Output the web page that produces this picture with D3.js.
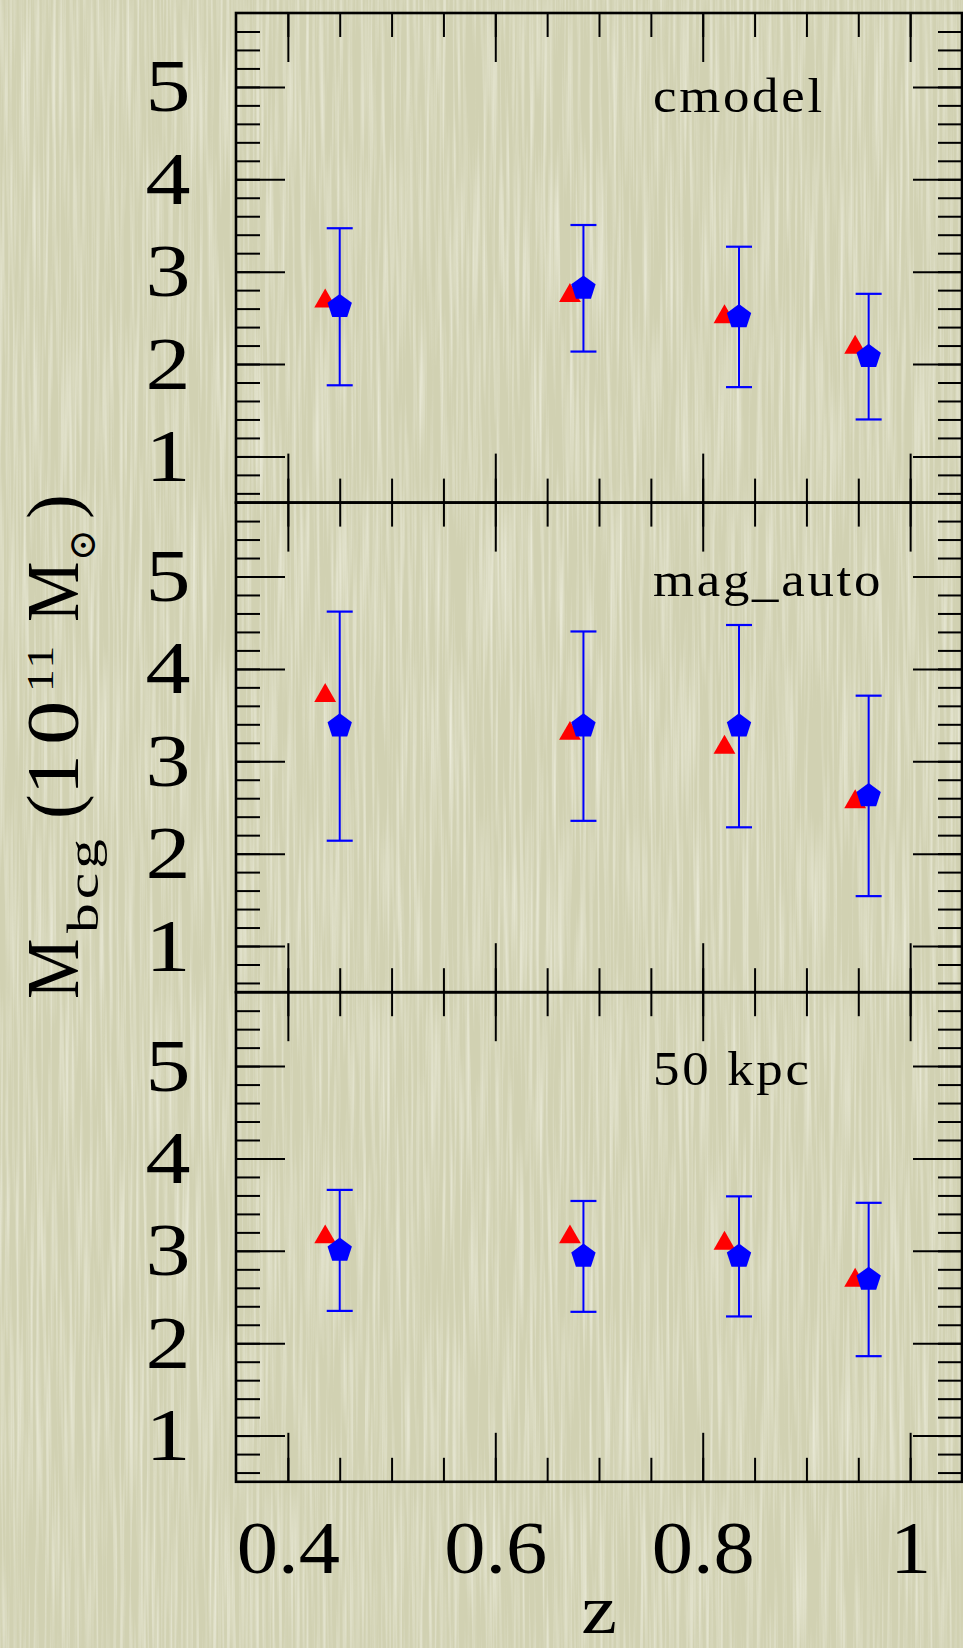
<!DOCTYPE html>
<html>
<head>
<meta charset="utf-8">
<script src="https://cdn.jsdelivr.net/npm/d3@7"></script>
<style>
  html, body { margin: 0; padding: 0; background: #d2d2b3; }
  svg { display: block; }
</style>
</head>
<body>
<svg id="chart" width="963" height="1648"></svg>
<script>
// Redshift bins (blue: full sample, red: comparison values, slightly offset)
const zBlue = [0.45, 0.685, 0.835, 0.96];
const zRed  = [0.436, 0.672, 0.821, 0.947];

// Panel names (photometry choice)
const panelNames = ["cmodel", "mag_auto", "50 kpc"];

// BCG stellar mass, 10^11 Msun
const cmodelBlue    = [2.62, 2.82, 2.51, 2.08];
const cmodelBlueErr = [0.85, 0.685, 0.76, 0.68];
const cmodelRed     = [2.68, 2.74, 2.51, 2.18];

const magAutoBlue    = [3.38, 3.38, 3.38, 2.625];
const magAutoBlueErr = [1.24, 1.025, 1.095, 1.085];
const magAutoRed     = [3.71, 3.30, 3.15, 2.56];

const kpc50Blue    = [3.005, 2.94, 2.94, 2.69];
const kpc50BlueErr = [0.655, 0.60, 0.65, 0.83];
const kpc50Red     = [3.15, 3.15, 3.08, 2.68];

// Axis ticks
const xMajorTicks = [0.4, 0.6, 0.8, 1.0];
const xTickLabels = ["0.4", "0.6", "0.8", "1"];
const yMajorTicks = [1, 2, 3, 4, 5];
const yTickLabels = ["1", "2", "3", "4", "5"];

// ---------------------------------------------------------------------------
const panels = [
  { name: panelNames[0], blue: cmodelBlue,  err: cmodelBlueErr,  red: cmodelRed },
  { name: panelNames[1], blue: magAutoBlue, err: magAutoBlueErr, red: magAutoRed },
  { name: panelNames[2], blue: kpc50Blue,   err: kpc50BlueErr,   red: kpc50Red }
];

const W = 963, H = 1648;
const plotL = 236, plotR = 962, plotT = 13, panelH = 489.6;
const labelDy = [99, 93, 93];
const serif = "'Liberation Serif', 'Times New Roman', serif";

const svg = d3.select("#chart");

// textured paper background with soft vertical streaks
const defs = svg.append("defs");
const flt = defs.append("filter").attr("id", "paper")
  .attr("x", 0).attr("y", 0).attr("width", "100%").attr("height", "100%");
flt.append("feTurbulence").attr("type", "fractalNoise")
  .attr("baseFrequency", "0.3 0.006").attr("numOctaves", 2).attr("seed", 7);
flt.append("feColorMatrix").attr("type", "matrix")
  .attr("values", "0 0 0 0 0.97  0 0 0 0 0.97  0 0 0 0 0.9  1.2 0 0 0 -0.5");
svg.append("rect").attr("width", W).attr("height", H).attr("fill", "#d1d1b2");
svg.append("rect").attr("width", W).attr("height", H).attr("filter", "url(#paper)");

const x = d3.scaleLinear().domain([0.35, 1.05]).range([plotL, plotR]);
const xMinor = d3.range(0.4, 1.0001, 0.05).map(v => +v.toFixed(2));
const yMinor = d3.range(0.6, 5.7001, 0.2).map(v => +v.toFixed(1));

function polygon(cx, cy, r, n) {
  const pts = [];
  for (let k = 0; k < n; k++) {
    const a = -Math.PI / 2 + k * 2 * Math.PI / n;
    pts.push([cx + r * Math.cos(a), cy + r * Math.sin(a)]);
  }
  return "M" + pts.map(p => p.join(",")).join("L") + "Z";
}

function styleTicks(g, w) {
  g.select(".domain").remove();
  g.selectAll(".tick line").attr("stroke", "#000").attr("stroke-width", w);
}

panels.forEach((p, i) => {
  const y0 = plotT + i * panelH, y1 = y0 + panelH;
  const y = d3.scaleLinear().domain([0.5, 5.8]).range([y1, y0]);
  const g = svg.append("g");

  // minor / major ticks on all four sides, pointing inward
  g.append("g").attr("transform", `translate(${plotL},0)`)
    .call(d3.axisLeft(y).tickValues(yMinor).tickSize(-24).tickFormat(""))
    .call(s => styleTicks(s, 2));
  g.append("g").attr("transform", `translate(${plotR},0)`)
    .call(d3.axisRight(y).tickValues(yMinor).tickSize(-24).tickFormat(""))
    .call(s => styleTicks(s, 2));
  const yl = g.append("g").attr("transform", `translate(${plotL},0)`)
    .call(d3.axisLeft(y).tickValues(yMajorTicks).tickSize(-49).tickPadding(38)
      .tickFormat((d, j) => yTickLabels[j]))
    .call(s => styleTicks(s, 2));
  yl.selectAll(".tick text").attr("font-family", serif).attr("font-size", 75)
    .attr("fill", "#000").attr("transform", "scale(1.2,1)");
  g.append("g").attr("transform", `translate(${plotR},0)`)
    .call(d3.axisRight(y).tickValues(yMajorTicks).tickSize(-49).tickFormat(""))
    .call(s => styleTicks(s, 2));

  g.append("g").attr("transform", `translate(0,${y0})`)
    .call(d3.axisTop(x).tickValues(xMinor).tickSize(-24).tickFormat(""))
    .call(s => styleTicks(s, 2));
  g.append("g").attr("transform", `translate(0,${y0})`)
    .call(d3.axisTop(x).tickValues(xMajorTicks).tickSize(-49).tickFormat(""))
    .call(s => styleTicks(s, 2));
  g.append("g").attr("transform", `translate(0,${y1})`)
    .call(d3.axisBottom(x).tickValues(xMinor).tickSize(-24).tickFormat(""))
    .call(s => styleTicks(s, 2));
  const xb = g.append("g").attr("transform", `translate(0,${y1})`)
    .call(d3.axisBottom(x).tickValues(xMajorTicks).tickSize(-49).tickPadding(38)
      .tickFormat((d, j) => i === panels.length - 1 ? xTickLabels[j] : ""))
    .call(s => styleTicks(s, 2));
  xb.selectAll(".tick text").attr("font-family", serif).attr("font-size", 75)
    .attr("fill", "#000").attr("transform", "scale(1.1,1)");

  // frame
  g.append("rect").attr("x", plotL).attr("y", y0)
    .attr("width", plotR - plotL).attr("height", panelH)
    .attr("fill", "none").attr("stroke", "#000").attr("stroke-width", 2.6);

  // panel name
  g.append("text").attr("transform", `translate(653,${y0 + labelDy[i]}) scale(1.1,1)`)
    .attr("font-family", serif).attr("font-size", 48).attr("letter-spacing", 2.5)
    .attr("fill", "#000").text(p.name);

  // red triangles
  g.selectAll(".tri").data(p.red).join("path")
    .attr("d", (v, j) => polygon(x(zRed[j]), y(v), 12.6, 3))
    .attr("fill", "#ff0000");

  // blue error bars
  const eb = g.selectAll(".eb").data(p.blue).join("g");
  eb.append("line")
    .attr("x1", (v, j) => x(zBlue[j])).attr("x2", (v, j) => x(zBlue[j]))
    .attr("y1", (v, j) => y(v + p.err[j])).attr("y2", (v, j) => y(v - p.err[j]))
    .attr("stroke", "#0000ff").attr("stroke-width", 2);
  [1, -1].forEach(sgn => {
    eb.append("line")
      .attr("x1", (v, j) => x(zBlue[j]) - 13).attr("x2", (v, j) => x(zBlue[j]) + 13)
      .attr("y1", (v, j) => y(v + sgn * p.err[j])).attr("y2", (v, j) => y(v + sgn * p.err[j]))
      .attr("stroke", "#0000ff").attr("stroke-width", 2.2);
  });
  // blue pentagons
  g.selectAll(".pent").data(p.blue).join("path")
    .attr("d", (v, j) => polygon(x(zBlue[j]), y(v), 12.8, 5))
    .attr("fill", "#0000ff");
});

// x axis title
svg.append("text").attr("transform", `translate(${(plotL + plotR) / 2},1633) scale(1.15,1)`)
  .attr("text-anchor", "middle").attr("font-family", serif).attr("font-size", 70)
  .attr("fill", "#000").text("z");

// y axis title: M_bcg (10^11 M_sun), written bottom-to-top.
// Rotated frame: along = -(screen y), across = screen x - 78 (baseline offset)
const titlePieces = [
  { t: "M",      at: 999, dy: 0,   size: 74, sx: 0.92 },
  { t: "bcg",    at: 933, dy: 20,  size: 44, sx: 1.35, ls: 3 },
  { t: "(",      at: 819, dy: 0,   size: 74, sx: 1 },
  { t: "1",      at: 795, dy: 0,   size: 74, sx: 1.1 },
  { t: "0",      at: 745, dy: 0,   size: 74, sx: 1.2 },
  { t: "11",     at: 692, dy: -25, size: 38, sx: 1.2, ls: 2 },
  { t: "M",      at: 622, dy: 0,   size: 74, sx: 0.92 },
  { t: "\u2299", at: 561, dy: 17,  size: 38, sx: 1, fam: "'DejaVu Serif', serif" },
  { t: ")",      at: 519, dy: 0,   size: 74, sx: 1 }
];
const yt = svg.append("g").attr("transform", "translate(78,0) rotate(-90)");
yt.selectAll("text").data(titlePieces).join("text")
  .attr("transform", d => `translate(${-d.at},${d.dy}) scale(${d.sx},1)`)
  .attr("font-family", d => d.fam || serif)
  .attr("font-size", d => d.size)
  .attr("letter-spacing", d => d.ls || 0)
  .attr("fill", "#000")
  .text(d => d.t);
</script>
</body>
</html>
